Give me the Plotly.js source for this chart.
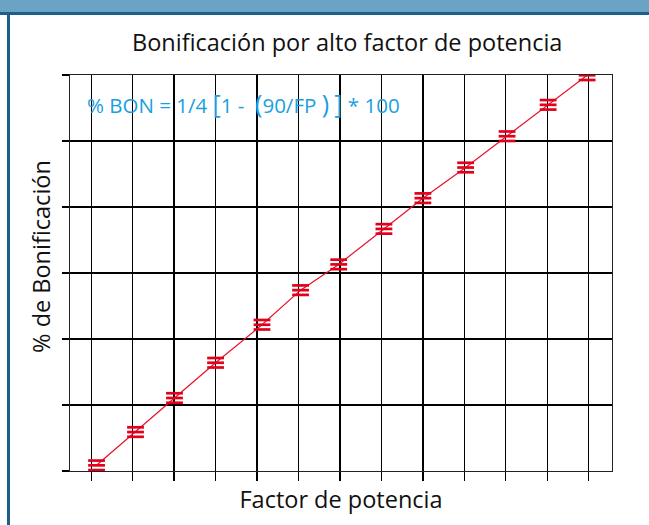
<!DOCTYPE html>
<html lang="es">
<head>
<meta charset="utf-8">
<title>Bonificación por alto factor de potencia</title>
<script src="https://cdn.plot.ly/plotly-3.0.1.min.js"></script>
<style>
    html, body { margin: 0; padding: 0; background: #ffffff; }
    #frame { position: relative; width: 649px; height: 525px; overflow: hidden; }
    #chart { position: absolute; left: 0; top: 0; width: 649px; height: 525px; }
    /* slide-style header band and left edge, drawn over the chart */
    .band { position: absolute; left: 0; top: 0; width: 649px; height: 12px; background: #6aa3c4; }
    .band-edge { position: absolute; left: 0; top: 12px; width: 649px; height: 3px; background: #1d5e8b; }
    .side-edge { position: absolute; left: 7px; top: 12px; width: 3px; height: 513px; background: #1d5e8b; }
</style>
</head>
<body>
<div id="frame">
    <div id="chart"></div>
    <div class="band"></div>
    <div class="band-edge"></div>
    <div class="side-edge"></div>
</div>
<script>
// Values (no tick labels are shown on the original)
const fpValues = [90.13, 91.07, 92.01, 93.0, 94.12, 95.05, 95.97, 97.06, 98.0, 99.03, 100.03, 101.02, 101.96];
const bonValues = [0.043, 0.295, 0.553, 0.820, 1.108, 1.370, 1.565, 1.834, 2.067, 2.299, 2.536, 2.774, 2.998];
const xTickValues = [90, 91, 92, 93, 94, 95, 96, 97, 98, 99, 100, 101, 102];
const yTickValues = [0, 0.5, 1, 1.5, 2, 2.5, 3];

const chartTitle = 'Bonificación por alto factor de potencia';
const xTitle = 'Factor de potencia';
const yTitle = '% de Bonificación';
const formulaText = '% BON = 1/4 <span style="font-size:25px">[</span>1 -  <span style="font-size:25px">(</span>90/FP <span style="font-size:25px">)</span> <span style="font-size:25px">]</span> * 100';

const RED = '#e2001a';
const FONT = '"Open Sans", "Noto Sans", sans-serif';
const Y_RANGE = [0, 3];
// the "≡" marker is three short bars; the outer two sit on shifted copies of the y axis
const BAR_GAP = 0.036;

/**
 * One row of bars on the given y axis
 */
function barTrace(axis) {
    return {
        type: 'scatter',
        mode: 'markers',
        x: fpValues,
        y: bonValues,
        yaxis: axis,
        marker: {
            symbol: 'line-ew',
            size: 12,
            color: RED,
            line: { color: RED, width: 2.7 }
        },
        hoverinfo: 'skip',
        showlegend: false
    };
}

const lineTrace = {
    type: 'scatter',
    mode: 'lines',
    x: fpValues,
    y: bonValues,
    line: { color: '#e8102a', width: 1.2 },
    showlegend: false
};

const gridAxis = {
    showticklabels: false,
    ticks: 'outside',
    tickcolor: '#000',
    tickwidth: 1.2,
    showgrid: true,
    gridcolor: '#000',
    gridwidth: 1.2,
    showline: true,
    linecolor: '#222',
    linewidth: 1.4,
    mirror: true,
    zeroline: false,
    fixedrange: true
};

const titleFont = { family: FONT, size: 23.5, color: '#111' };

const layout = {
    width: 649,
    height: 525,
    autosize: false,
    margin: { l: 70, r: 37, t: 75, b: 54 },
    paper_bgcolor: '#ffffff',
    plot_bgcolor: '#ffffff',
    font: { family: FONT, color: '#111' },
    title: {
        text: chartTitle,
        font: titleFont,
        xref: 'container',
        x: 0.535,
        xanchor: 'center',
        y: 0.918,
        yanchor: 'middle'
    },
    xaxis: {
        ...gridAxis,
        range: [89.49, 102.56],
        tickvals: xTickValues,
        ticklen: 9,
        title: {
            text: xTitle,
            font: titleFont,
            standoff: 11
        }
    },
    yaxis: {
        ...gridAxis,
        range: Y_RANGE,
        tickvals: yTickValues,
        ticklen: 7
    },
    yaxis2: { overlaying: 'y', visible: false, range: [Y_RANGE[0] - BAR_GAP, Y_RANGE[1] - BAR_GAP] },
    yaxis3: { overlaying: 'y', visible: false, range: [Y_RANGE[0] + BAR_GAP, Y_RANGE[1] + BAR_GAP] },
    annotations: [
        {
            text: yTitle,
            textangle: -90,
            xref: 'paper', yref: 'paper',
            x: -0.054, y: 0.5425,
            xanchor: 'center', yanchor: 'middle',
            showarrow: false,
            font: titleFont
        },
        {
            text: formulaText,
            xref: 'paper', yref: 'paper',
            x: 0.321, y: 0.9286,
            xanchor: 'center', yanchor: 'middle',
            showarrow: false,
            font: { family: FONT, size: 20.5, color: '#1aa0e0' }
        }
    ]
};

Plotly.newPlot('chart', [lineTrace, barTrace('y'), barTrace('y2'), barTrace('y3')], layout, {
    staticPlot: true,
    displayModeBar: false
});
</script>
</body>
</html>
